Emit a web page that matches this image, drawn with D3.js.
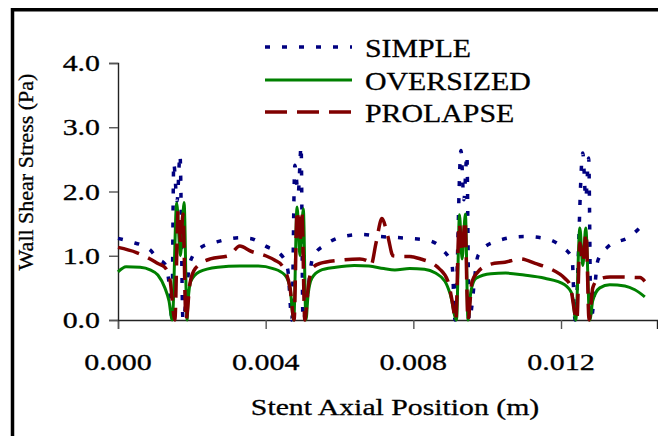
<!DOCTYPE html>
<html>
<head>
<meta charset="utf-8">
<script src="https://cdn.jsdelivr.net/npm/d3@7"></script>
<style>
  body { margin: 0; background: #fff; }
  svg { display: block; }
  text { font-family: "Liberation Serif", "Times New Roman", serif; fill: #000; stroke: #000; stroke-width: 0.3; }
</style>
</head>
<body>
<div class="canvas"></div>
<script>
// tick labels
const xTicks = [0, 0.004, 0.008, 0.012];
const yTicks = [0, 1, 2, 3, 4];
const seriesNames = ['SIMPLE', 'OVERSIZED', 'PROLAPSE'];

// [axial position (m), wall shear stress (Pa)]
const simple = [
  [0, 1.27], [0.00033, 1.22], [0.00087, 1.09], [0.00108, 0.95], [0.00127, 0.87],
  [0.00141, 0.42], [0.00146, 0.0], [0.00151, 2.44], [0.00160, 1.85], [0.00168, 2.57],
  [0.00176, 0.0], [0.00195, 0.9], [0.00222, 1.12], [0.0027, 1.22], [0.0033, 1.28],
  [0.00358, 1.27], [0.0040, 1.15], [0.00444, 1.0], [0.0046, 0.78], [0.00471, 0.0],
  [0.00479, 2.41], [0.00488, 1.97], [0.00496, 2.7], [0.00501, 0.0], [0.00528, 0.98],
  [0.00561, 1.17], [0.0063, 1.32], [0.0066, 1.33], [0.0071, 1.3], [0.0079, 1.27],
  [0.0084, 1.24], [0.0088, 1.09], [0.00905, 0.85], [0.00913, 0.0], [0.00929, 2.64],
  [0.00937, 1.87], [0.00945, 2.57], [0.00951, 0.0], [0.00975, 1.0], [0.01013, 1.2],
  [0.0110, 1.3], [0.01156, 1.27], [0.01202, 1.14], [0.0123, 0.96], [0.01238, 0.0],
  [0.01259, 2.6], [0.01267, 1.9], [0.01275, 2.52], [0.01281, 0.0], [0.0130, 0.93],
  [0.01327, 1.14], [0.01387, 1.3], [0.01416, 1.45]
];

const oversized = [
  [0, 0.75], [0.00022, 0.83], [0.0006, 0.82], [0.00087, 0.78], [0.00108, 0.7],
  [0.00127, 0.5], [0.00138, 0.3], [0.00147, 0.0], [0.00159, 1.82], [0.00169, 1.0],
  [0.00179, 1.83], [0.00187, 0.0], [0.0019, 0.3], [0.00197, 0.6], [0.0022, 0.75],
  [0.0027, 0.82], [0.0033, 0.84], [0.0038, 0.84], [0.0042, 0.8], [0.00452, 0.7],
  [0.00466, 0.5], [0.00476, 0.0], [0.00485, 1.76], [0.00493, 1.0], [0.00502, 1.73],
  [0.00509, 0.0], [0.00515, 0.4], [0.00525, 0.65], [0.00547, 0.77], [0.0059, 0.82],
  [0.0064, 0.85], [0.0068, 0.84], [0.0072, 0.8], [0.0075, 0.78], [0.0079, 0.8],
  [0.0083, 0.79], [0.0086, 0.73], [0.00886, 0.6], [0.009, 0.4], [0.00917, 0.0],
  [0.00925, 1.64], [0.00932, 0.95], [0.00941, 1.65], [0.00948, 0.0], [0.00956, 0.45],
  [0.0097, 0.65], [0.0101, 0.72], [0.0105, 0.73], [0.011, 0.7], [0.01156, 0.65],
  [0.0121, 0.55], [0.0123, 0.4], [0.0124, 0.0], [0.01251, 1.43], [0.01259, 0.85],
  [0.01267, 1.43], [0.01278, 0.0], [0.01286, 0.3], [0.01305, 0.5], [0.01332, 0.55],
  [0.01373, 0.53], [0.014, 0.47], [0.01427, 0.36]
];

const prolapse = [
  [0, 1.13], [0.0005, 1.05], [0.00087, 0.95], [0.00108, 0.88], [0.00127, 0.82],
  [0.00141, 0.62], [0.00154, 0.0], [0.00163, 1.7], [0.0017, 1.2], [0.00176, 1.65],
  [0.00184, 0.0], [0.00195, 0.57], [0.00209, 0.8], [0.0025, 0.95], [0.003, 1.0],
  [0.0033, 1.15], [0.0036, 1.07], [0.004, 1.0], [0.00425, 0.93], [0.00444, 0.85],
  [0.00466, 0.5], [0.00477, 0.0], [0.00485, 1.7], [0.00493, 1.2], [0.00498, 1.7],
  [0.00506, 0.0], [0.00515, 0.5], [0.00525, 0.8], [0.00547, 0.88], [0.006, 0.93],
  [0.00655, 0.95], [0.00675, 0.92], [0.00685, 0.85], [0.00699, 1.2], [0.00715, 1.58],
  [0.00731, 1.3], [0.00745, 1.0], [0.0077, 0.99], [0.0079, 0.99], [0.0082, 0.95],
  [0.0086, 0.85], [0.0087, 0.8], [0.00894, 0.6], [0.00905, 0.3], [0.00915, 0.0],
  [0.00924, 1.5], [0.00932, 1.05], [0.0094, 1.55], [0.00948, 0.0], [0.00959, 0.6],
  [0.00975, 0.75], [0.0101, 0.87], [0.01048, 0.9], [0.0109, 0.95], [0.0113, 0.88],
  [0.0117, 0.8], [0.0121, 0.65], [0.01224, 0.55], [0.01243, 0.0], [0.01251, 1.2],
  [0.01259, 0.9], [0.01268, 1.35], [0.01276, 0.0], [0.01286, 0.5], [0.013, 0.63],
  [0.01333, 0.67], [0.01414, 0.66], [0.01427, 0.6]
];

const W = 658, H = 436;

const svg = d3.select('.canvas')
  .append('svg')
  .attr('width', W)
  .attr('height', H);

// outer frame (only left and top edges are in view)
svg.append('path')
  .attr('d', 'M12.5,440 V9.8 H662')
  .attr('fill', 'none')
  .attr('stroke', '#000')
  .attr('stroke-width', 3.5);

const x = d3.scaleLinear().domain([0, 0.0146]).range([118, 657]);
const y = d3.scaleLinear().domain([0, 4]).range([320, 63]);

// axes
const xAxis = svg.append('g')
  .attr('transform', `translate(0, ${y(0)})`)
  .call(d3.axisBottom(x).tickValues(xTicks).tickSize(9).tickFormat(''));

const yAxis = svg.append('g')
  .attr('transform', `translate(${x(0)}, 0)`)
  .call(d3.axisLeft(y).tickValues(yTicks).tickSize(9).tickFormat(''));

[xAxis, yAxis].forEach(a => {
  a.select('.domain').attr('stroke', '#222').attr('stroke-width', 1.4);
  a.selectAll('.tick line').attr('stroke', '#555').attr('stroke-width', 1.4);
});

// text in the picture is drawn wide, so stretch it horizontally
const label = (px, py, str, anchor, size, sx) => svg.append('text')
  .attr('transform', `translate(${px}, ${py}) scale(${sx}, 1)`)
  .attr('text-anchor', anchor)
  .attr('font-size', size)
  .text(str);

yTicks.forEach(v => label(100, y(v) + 8, d3.format('.1f')(v), 'end', 23, 1.3));
xTicks.forEach(v => label(x(v), 370, d3.format('.3f')(v), 'middle', 24, 1.25));

label(395, 415, 'Stent Axial Position (m)', 'middle', 24, 1.24);

svg.append('text')
  .attr('transform', 'translate(33, 172) rotate(-90)')
  .attr('text-anchor', 'middle')
  .attr('font-size', 22)
  .text('Wall Shear Stress (Pa)');

// lines
const line = d3.line()
  .x(d => x(d[0]))
  .y(d => y(d[1]))
  .curve(d3.curveMonotoneX);

const styles = [
  { data: simple, colour: '#000080', width: 3.5, dash: '5,12' },
  { data: oversized, colour: '#008000', width: 3, dash: null },
  { data: prolapse, colour: '#800000', width: 3.5, dash: '22,10' }
];

styles.forEach(s => {
  svg.append('path')
    .datum(s.data)
    .attr('d', line)
    .attr('fill', 'none')
    .attr('stroke', s.colour)
    .attr('stroke-width', s.width)
    .attr('stroke-dasharray', s.dash)
    .attr('stroke-linejoin', 'round');
});

// legend
const legendY = [47, 80, 112];
seriesNames.forEach((name, i) => {
  svg.append('line')
    .attr('x1', 265).attr('x2', 352)
    .attr('y1', legendY[i]).attr('y2', legendY[i])
    .attr('stroke', styles[i].colour)
    .attr('stroke-width', styles[i].width)
    .attr('stroke-dasharray', styles[i].dash);
  label(365, legendY[i] + 9.5, name, 'start', 25.5, 1.17);
});
</script>
</body>
</html>
